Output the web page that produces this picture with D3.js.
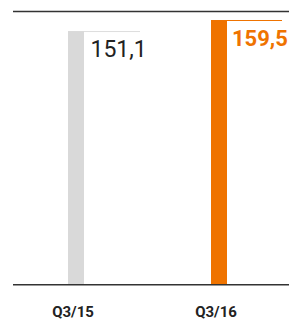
<!DOCTYPE html>
<html>
<head>
<meta charset="utf-8">
<script src="https://cdn.jsdelivr.net/npm/d3@7.9.0/dist/d3.min.js"></script>
<style>
  html, body { margin: 0; padding: 0; background: #fff; }
  svg { display: block; font-family: Roboto, "Liberation Sans", Arial, sans-serif; }
</style>
</head>
<body>
<svg id="chart" width="289" height="320"></svg>
<script>
const categories = ['Q3/15', 'Q3/16'];
const values = [151.1, 159.5];
const valueLabels = ['151,1', '159,5'];
const barColors = ['#d9d9d9', '#ef7300'];
const labelColors = ['#222222', '#ef7300'];

const svg = d3.select('#chart');

const x = d3.scaleBand()
    .domain(categories)
    .range([4.5, 290.5]);

const y = d3.scaleLinear()
    .domain([-42, 159.5])
    .range([285, 20]);

const barWidth = 16;

// top rule
svg.append('line')
    .attr('x1', 13).attr('x2', 289)
    .attr('y1', 11.5).attr('y2', 11.5)
    .attr('stroke', '#333').attr('stroke-width', 1.5);

categories.forEach((cat, i) => {
    const cx = x(cat) + x.bandwidth() / 2;
    const left = cx - barWidth / 2;
    const top = y(values[i]);

    svg.append('rect')
        .attr('x', left)
        .attr('y', top)
        .attr('width', barWidth)
        .attr('height', y(-42) - top)
        .attr('fill', barColors[i]);

    // leader line from bar top
    svg.append('line')
        .attr('x1', left + barWidth).attr('x2', i === 0 ? 140 : 282)
        .attr('y1', top + 0.5).attr('y2', top + 0.5)
        .attr('stroke', i === 0 ? '#dddddd' : barColors[i])
        .attr('stroke-width', 1);

    svg.append('text')
        .attr('x', left + barWidth + (i === 0 ? 6.5 : 5))
        .attr('y', top + 26)
        .attr('fill', labelColors[i])
        .attr('font-size', i === 0 ? 23 : 22)
        .attr('font-weight', i === 0 ? 'normal' : 'bold')
        .text(valueLabels[i]);

    svg.append('text')
        .attr('x', cx - 3)
        .attr('y', 317)
        .attr('text-anchor', 'middle')
        .attr('fill', '#222')
        .attr('font-size', 15)
        .attr('font-weight', 'bold')
        .text(cat);
});

// baseline
svg.append('line')
    .attr('x1', 13).attr('x2', 289)
    .attr('y1', 284.75).attr('y2', 284.75)
    .attr('stroke', '#333').attr('stroke-width', 1.5);
</script>
</body>
</html>
